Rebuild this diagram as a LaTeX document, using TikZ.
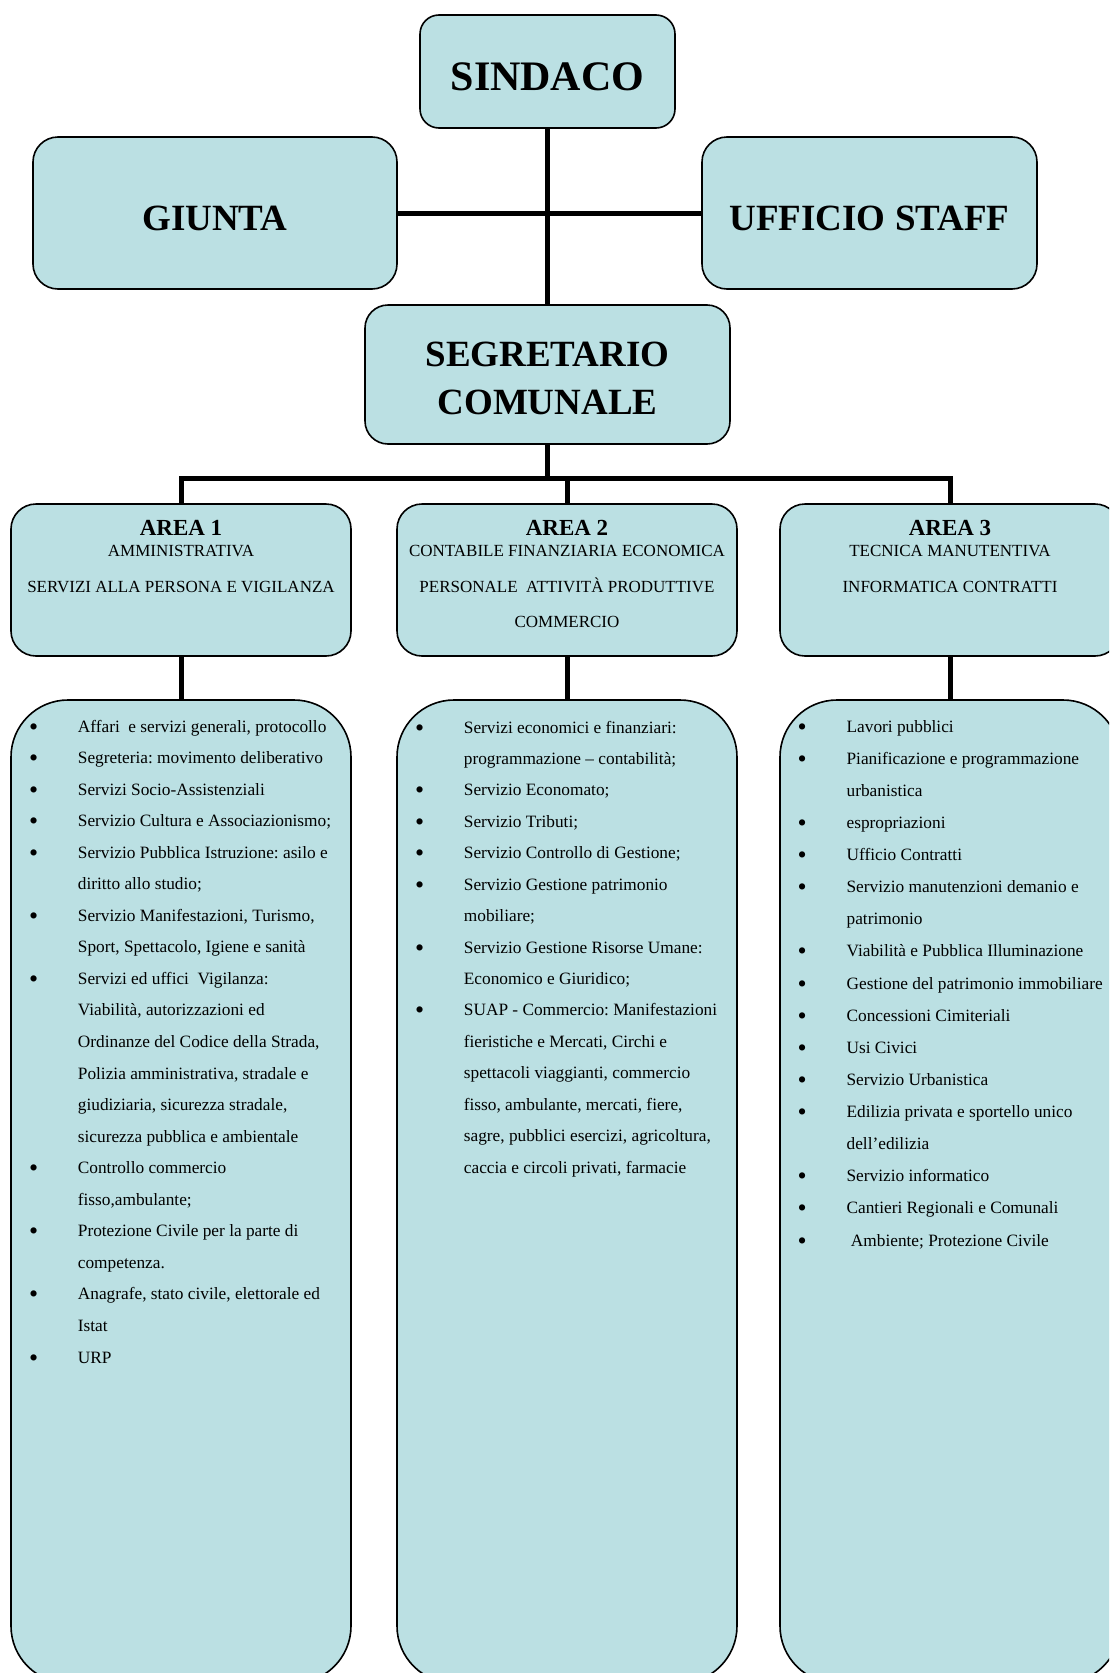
\documentclass[tikz,border=0pt]{standalone}
\usepackage{fontspec}
\setmainfont{Liberation Serif}
\definecolor{boxfill}{RGB}{187,224,227}
\newcommand\itmA{\makebox[47.4pt][l]{\hspace{-1.5pt}\raisebox{-3pt}{\scalebox{1.5}{\textbullet}}}}
\newcommand\cntA{\hspace*{47.4pt}}
\tikzset{
  box/.style={draw=black, line width=1.6pt, fill=boxfill, inner sep=0pt},
  areabox/.style={box, minimum width=340pt, minimum height=152pt, rounded corners=25pt},
  listbox/.style={box, minimum width=340pt, minimum height=983pt, rounded corners=57pt},
  conn/.style={line width=5pt, draw=black, line join=miter},
  txt/.style={inner sep=0pt, anchor=base},
  head/.style={txt, font=\fontsize{37}{44}\selectfont\bfseries},
  areatitle/.style={txt, font=\fontsize{23}{27}\selectfont\bfseries},
  areasub/.style={txt, font=\fontsize{17}{20}\selectfont},
  lst/.style={inner sep=0pt, anchor=base west}
}
\begin{document}
\frenchspacing
\begin{tikzpicture}[x=1pt,y=-1pt]
\useasboundingbox (0,0) rectangle (1109,1673);
\fill[white] (0,0) rectangle (1109,1673);
\clip (0,0) rectangle (1109,1673);

% boxes
\node[box, minimum width=255pt, minimum height=113pt, rounded corners=19pt] (sindaco) at (547.5,71.5) {};
\node[box, minimum width=364pt, minimum height=152pt, rounded corners=25pt] (giunta) at (215,213) {};
\node[box, minimum width=335pt, minimum height=152pt, rounded corners=25pt] (staff) at (869.5,213) {};
\node[box, minimum width=365pt, minimum height=139pt, rounded corners=23pt] (segr) at (547.5,374.5) {};
\node[areabox] (a1) at (181,580) {};
\node[areabox] (a2) at (567,580) {};
\node[areabox] (a3) at (950,580) {};
\node[listbox] (l1) at (181,1191.5) {};
\node[listbox] (l2) at (567,1191.5) {};
\node[listbox] (l3) at (950,1191.5) {};

% connectors
\coordinate (bus) at (547.5,478);
\draw[conn] (sindaco.south) -- (segr.north);
\draw[conn] (giunta.east) -- (staff.west);
\draw[conn] (segr.south) -- (bus);
\draw[conn] (a1.north) |- (bus) -| (a3.north);
\draw[conn] (a2.north) -- (a2.north |- bus);
\draw[conn] (a1.south) -- (l1.north);
\draw[conn] (a2.south) -- (l2.north);
\draw[conn] (a3.south) -- (l3.north);

% top texts
\node[txt, font=\fontsize{42}{48}\selectfont\bfseries] (tsind) at (547.5,90) {SINDACO};
\node[head] (tgiunta) at (215,230) {GIUNTA};
\node[head] (tstaff) at (869.5,230) {UFFICIO STAFF};
\node[head] (tsegr1) at (547.5,366) {SEGRETARIO};
\node[head] (tsegr2) at (547.5,414) {COMUNALE};

% area texts
\node[areatitle] (ta1) at (181,535) {AREA 1};
\node[areasub] (ta1a) at (181,556) {AMMINISTRATIVA};
\node[areasub] (ta1b) at (181,592) {SERVIZI ALLA PERSONA E VIGILANZA};
\node[areatitle] (ta2) at (567,535) {AREA 2};
\node[areasub] (ta2a) at (567,556) {CONTABILE FINANZIARIA ECONOMICA};
\node[areasub] (ta2b) at (567,592) {PERSONALE\ \ ATTIVITÀ PRODUTTIVE};
\node[areasub] (ta2c) at (567,627) {COMMERCIO};
\node[areatitle] (ta3) at (950,535) {AREA 3};
\node[areasub] (ta3a) at (950,556) {TECNICA MANUTENTIVA};
\node[areasub] (ta3b) at (950,592) {INFORMATICA CONTRATTI};

% lists
\node[lst, font=\fontsize{17.3}{31.55}\selectfont] (list1) at (30.3,732) {%
\begin{tabular}[t]{@{}l@{}}
\itmA Affari\ \ e servizi generali, protocollo\\
\itmA Segreteria: movimento deliberativo\\
\itmA Servizi Socio-Assistenziali\\
\itmA Servizio Cultura e Associazionismo;\\
\itmA Servizio Pubblica Istruzione: asilo e\\
\cntA diritto allo studio;\\
\itmA Servizio Manifestazioni, Turismo,\\
\cntA Sport, Spettacolo, Igiene e sanità\\
\itmA Servizi ed uffici\ \ Vigilanza:\\
\cntA Viabilità, autorizzazioni ed\\
\cntA Ordinanze del Codice della Strada,\\
\cntA Polizia amministrativa, stradale e\\
\cntA giudiziaria, sicurezza stradale,\\
\cntA sicurezza pubblica e ambientale\\
\itmA Controllo commercio\\
\cntA fisso,ambulante;\\
\itmA Protezione Civile per la parte di\\
\cntA competenza.\\
\itmA Anagrafe, stato civile, elettorale ed\\
\cntA Istat\\
\itmA URP
\end{tabular}};

\node[lst, font=\fontsize{17.3}{31.43}\selectfont] (list2) at (416.3,733) {%
\begin{tabular}[t]{@{}l@{}}
\itmA Servizi economici e finanziari:\\
\cntA programmazione – contabilità;\\
\itmA Servizio Economato;\\
\itmA Servizio Tributi;\\
\itmA Servizio Controllo di Gestione;\\
\itmA Servizio Gestione patrimonio\\
\cntA mobiliare;\\
\itmA Servizio Gestione Risorse Umane:\\
\cntA Economico e Giuridico;\\
\itmA SUAP - Commercio: Manifestazioni\\
\cntA fieristiche e Mercati, Circhi e\\
\cntA spettacoli viaggianti, commercio\\
\cntA fisso, ambulante, mercati, fiere,\\
\cntA sagre, pubblici esercizi, agricoltura,\\
\cntA caccia e circoli privati, farmacie
\end{tabular}};

\node[lst, font=\fontsize{17.3}{32.13}\selectfont] (list3) at (799,732) {%
\begin{tabular}[t]{@{}l@{}}
\itmA Lavori pubblici\\
\itmA Pianificazione e programmazione\\
\cntA urbanistica\\
\itmA espropriazioni\\
\itmA Ufficio Contratti\\
\itmA Servizio manutenzioni demanio e\\
\cntA patrimonio\\
\itmA Viabilità e Pubblica Illuminazione\\
\itmA Gestione del patrimonio immobiliare\\
\itmA Concessioni Cimiteriali\\
\itmA Usi Civici\\
\itmA Servizio Urbanistica\\
\itmA Edilizia privata e sportello unico\\
\cntA dell’edilizia\\
\itmA Servizio informatico\\
\itmA Cantieri Regionali e Comunali\\
\itmA\ Ambiente; Protezione Civile
\end{tabular}};
\end{tikzpicture}
\end{document}
